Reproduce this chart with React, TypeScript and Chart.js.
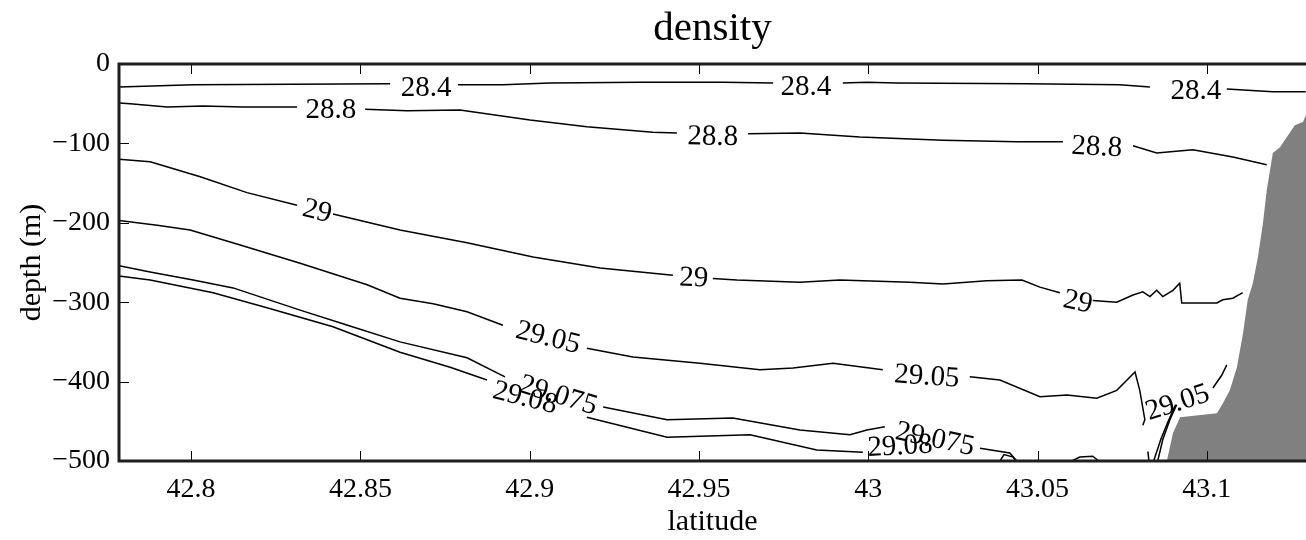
import React, { useEffect, useRef } from 'react';
import { Chart, registerables } from 'chart.js';

Chart.register(...registerables);

type P = [number, number] | null;

// ---- axis ticks ----
const xTicks = [42.8, 42.85, 42.9, 42.95, 43, 43.05, 43.1];
const xTickLabels = ['42.8', '42.85', '42.9', '42.95', '43', '43.05', '43.1'];
const yTicks = [0, -100, -200, -300, -400, -500];
const yTickLabels = ['0', '\u2212100', '\u2212200', '\u2212300', '\u2212400', '\u2212500'];

const titleText = 'density';
const xTitle = 'latitude';
const yTitle = 'depth (m)';

// ---- contour levels ----
const levels = ['28.4', '28.8', '29', '29.05', '29.075', '29.08'];

// ---- contour lines [latitude, depth] (null = gap for label) ----
const c28_4: P[] = [
  [42.7787, -29], [42.8006, -26], [42.8588, -25], null,
  [42.8788, -26], [42.8921, -26], [42.906, -24], [42.9326, -23], [42.9571, -23], [42.9719, -24], null,
  [42.9925, -24], [42.9996, -23], [43.0085, -24], [43.0469, -25], [43.0743, -26], [43.0832, -29], null,
  [43.1059, -31.5], [43.1195, -35], [43.1292, -35],
];

const c28_8: P[] = [
  [42.7787, -49], [42.782, -50], [42.7929, -54], [42.8035, -53], [42.8154, -54], [42.8313, -54], null,
  [42.8514, -57], [42.8638, -59], [42.8794, -58], [42.9001, -70.5], [42.9169, -79], [42.9364, -86], [42.9435, -87], null,
  [42.9645, -88], [42.9798, -87], [42.9975, -92], [43.0221, -96], [43.0439, -98], [43.0575, -98], null,
  [43.0782, -103], [43.0852, -112], [43.0959, -108], [43.1077, -117], [43.1177, -127],
];

const c29: P[] = [
  [42.7787, -120], [42.7879, -123], [42.8027, -142], [42.8165, -162], [42.8313, -178], null,
  [42.8419, -189], [42.8617, -209], [42.8815, -225], [42.901, -243], [42.9208, -257], [42.9423, -266], null,
  [42.9541, -270], [42.9612, -272], [42.9798, -275], [42.9916, -272], [43.0123, -275], [43.0221, -277],
  [43.035, -273], [43.0454, -272], [43.0507, -281], [43.0566, -288], null,
  [43.0663, -298], [43.0734, -300], [43.0782, -291], [43.0811, -287], [43.0832, -293], [43.0852, -285],
  [43.087, -293], [43.09, -285], [43.092, -276], [43.0926, -301], [43.103, -301], [43.1047, -297],
  [43.1077, -295], [43.1106, -288],
];

const c29_05: P[] = [
  [42.7787, -197], [42.79, -203], [42.7997, -209], [42.8145, -228], [42.8322, -251], [42.852, -278],
  [42.8617, -295], [42.8715, -302], [42.8815, -312], [42.8921, -329], null,
  [42.9169, -358], [42.9305, -369], [42.9503, -377], [42.968, -385], [42.9778, -383], [42.9896, -377], [43.0043, -385], null,
  [43.03, -394], [43.0389, -398], [43.0507, -419], [43.0587, -417], [43.0675, -421], [43.0734, -411],
  [43.0788, -388], [43.0802, -411], [43.0817, -448], [43.0811, -455], null,
  [43.1018, -408], [43.1044, -392], [43.1059, -379],
];

const c29_075: P[] = [
  [42.7787, -254], [42.7879, -262], [42.8006, -272], [42.8124, -282], [42.8322, -310], [42.8469, -330],
  [42.8617, -350], [42.8815, -370], [42.8927, -394], null,
  [42.9217, -432], [42.9406, -448], [42.96, -446], [42.9798, -461], [42.9946, -467], [42.9996, -461], [43.0049, -457], null,
  [43.033, -484], [43.0418, -490], [43.0439, -500], null,
  [43.0855, -500], [43.087, -473], [43.0891, -448], [43.0911, -429],
];

const c29_08: P[] = [
  [42.7787, -267], [42.7879, -272], [42.8065, -288], [42.8224, -307], [42.8419, -331], [42.8617, -363],
  [42.8765, -382], [42.8874, -398], null,
  [42.9169, -445], [42.9406, -470], [42.9651, -467], [42.9848, -486], [42.9984, -489], null,
  [43.0389, -500], [43.0401, -492], [43.0428, -495], [43.0436, -500], null,
  [43.0601, -500], [43.0625, -495], [43.0663, -494], [43.0681, -500], null,
  [43.0826, -488], [43.0829, -500], null,
  [43.0843, -500], [43.0864, -473], [43.0885, -451], [43.0908, -429],
];

// ---- bottom topography (slope), [latitude, depth] ----
const terrain: [number, number][] = [
  [43.0882, -500], [43.09, -465], [43.0921, -445], [43.103, -440], [43.1048, -427], [43.1068, -411],
  [43.1089, -382], [43.1107, -339], [43.1121, -297], [43.1136, -276], [43.1151, -243], [43.1166, -200],
  [43.1177, -159], [43.1195, -112], [43.1216, -105], [43.126, -77], [43.1284, -73], [43.1293, -64], [43.14, -58],
];

// ---- contour labels [latitude, depth, angle(deg)] ----
const lab28_4 = [[42.8694, -31, 0], [42.9816, -30, 0], [43.0968, -35, 0]];
const lab28_8 = [[42.8413, -58, 0], [42.9541, -92, 1], [43.0675, -105, 3]];
const lab29 = [[42.8372, -186, 14], [42.9485, -270, 2], [43.0619, -300, 12]];
const lab29_05 = [[42.9054, -345, 14], [43.0173, -394, 4], [43.0914, -427, -18]];
const lab29_075 = [[42.9084, -418, 17], [43.0197, -473, 12]];
const lab29_08 = [[42.8986, -421, 14], [43.0094, -482, -3]];

const contours = [c28_4, c28_8, c29, c29_05, c29_075, c29_08];
const contourLabels = [lab28_4, lab28_8, lab29, lab29_05, lab29_075, lab29_08];

const FONT = '"Liberation Serif", "Times New Roman", serif';

function toData(arr: P[]) {
  let lastX = 0;
  return arr.map((p) => {
    if (p) {
      lastX = p[0];
      return { x: p[0], y: p[1] };
    }
    return { x: lastX, y: null as any };
  });
}

const labelPlugin = {
  id: 'clabels',
  afterDatasetsDraw(chart: any) {
    const { ctx, scales } = chart;
    const xs = scales.x, ys = scales.y;
    ctx.save();
    ctx.font = `29px ${FONT}`;
    ctx.fillStyle = '#000';
    ctx.textAlign = 'center';
    ctx.textBaseline = 'middle';
    contourLabels.forEach((labs, i) => {
      labs.forEach(([lat, dep, ang]) => {
        const px = xs.getPixelForValue(lat);
        const py = ys.getPixelForValue(dep);
        ctx.save();
        ctx.translate(px, py);
        ctx.rotate((ang * Math.PI) / 180);
        ctx.fillText(levels[i], 0, 0);
        ctx.restore();
      });
    });
    ctx.restore();
  },
};

const axesPlugin = {
  id: 'matlabAxes',
  afterDraw(chart: any) {
    const { ctx, chartArea, scales } = chart;
    const { left, right, top, bottom } = chartArea;
    ctx.save();
    // ticks (inward)
    ctx.strokeStyle = '#000';
    ctx.lineWidth = 1;
    const tl = 10;
    xTicks.forEach((v) => {
      const px = Math.round(scales.x.getPixelForValue(v)) + 0.5;
      ctx.beginPath();
      ctx.moveTo(px, top);
      ctx.lineTo(px, top + tl);
      ctx.moveTo(px, bottom);
      ctx.lineTo(px, bottom - tl);
      ctx.stroke();
    });
    yTicks.forEach((v) => {
      const py = Math.round(scales.y.getPixelForValue(v)) + 0.5;
      ctx.beginPath();
      ctx.moveTo(left, py);
      ctx.lineTo(left + tl, py);
      ctx.stroke();
    });
    // axis lines
    ctx.strokeStyle = '#1e1e1e';
    ctx.lineWidth = 3;
    ctx.beginPath();
    ctx.moveTo(left, top);
    ctx.lineTo(right + 2, top);
    ctx.moveTo(left, bottom);
    ctx.lineTo(right + 2, bottom);
    ctx.moveTo(left, top - 1.5);
    ctx.lineTo(left, bottom + 1.5);
    ctx.stroke();
    // title
    ctx.fillStyle = '#000';
    ctx.font = `41px ${FONT}`;
    ctx.textAlign = 'center';
    ctx.textBaseline = 'alphabetic';
    ctx.fillText(titleText, (left + right) / 2, 40);
    ctx.restore();
  },
};

export default function App() {
  const canvasRef = useRef<HTMLCanvasElement | null>(null);

  useEffect(() => {
    const canvas = canvasRef.current;
    if (!canvas) return;

    const lineSets = contours.map((c, i) => ({
      label: levels[i],
      data: toData(c),
      borderColor: '#000',
      borderWidth: 1.5,
      pointRadius: 0,
      pointHoverRadius: 0,
      tension: 0,
      spanGaps: false,
      fill: false,
    }));

    const terrainSet = {
      label: 'bottom',
      data: terrain.map(([x, y]) => ({ x, y })),
      borderColor: 'rgba(0,0,0,0)',
      borderWidth: 0,
      backgroundColor: '#808080',
      pointRadius: 0,
      tension: 0,
      fill: 'start',
    };

    const chart = new Chart(canvas, {
      type: 'line',
      data: { datasets: [...lineSets, terrainSet] as any },
      options: {
        animation: false,
        responsive: true,
        maintainAspectRatio: false,
        events: [],
        layout: { padding: { top: 64, left: 0, right: 0, bottom: 0 } },
        plugins: {
          legend: { display: false },
          title: { display: false },
          tooltip: { enabled: false },
        },
        scales: {
          x: {
            type: 'linear',
            min: 42.7787,
            max: 43.1293,
            grid: { display: false, drawTicks: false },
            border: { display: false },
            afterBuildTicks: (s: any) => {
              s.ticks = xTicks.map((v) => ({ value: v }));
            },
            afterFit: (s: any) => {
              s.height = 79;
            },
            ticks: {
              autoSkip: false,
              maxRotation: 0,
              padding: 12,
              color: '#000',
              font: { family: FONT, size: 28 },
              callback: (_v: any, i: number) => xTickLabels[i],
            },
            title: {
              display: true,
              text: xTitle,
              color: '#000',
              font: { family: FONT, size: 30 },
              padding: { top: 0, bottom: 0 },
            },
          },
          y: {
            type: 'linear',
            min: -500,
            max: 0,
            grid: { display: false, drawTicks: false },
            border: { display: false },
            afterBuildTicks: (s: any) => {
              s.ticks = yTicks.map((v) => ({ value: v }));
            },
            afterFit: (s: any) => {
              s.width = 119;
            },
            ticks: {
              autoSkip: false,
              padding: 9,
              color: '#000',
              font: { family: FONT, size: 28 },
              callback: (_v: any, i: number) => yTickLabels[i],
            },
            title: {
              display: true,
              text: yTitle,
              color: '#000',
              font: { family: FONT, size: 30 },
              padding: { top: 14, bottom: 0 },
            },
          },
        },
      },
      plugins: [labelPlugin, axesPlugin],
    });

    return () => chart.destroy();
  }, []);

  return (
    <div
      style={{
        position: 'fixed',
        left: 0,
        top: 0,
        width: 1306,
        height: 540,
        background: '#fff',
        overflow: 'hidden',
      }}
    >
      <canvas ref={canvasRef} />
    </div>
  );
}
